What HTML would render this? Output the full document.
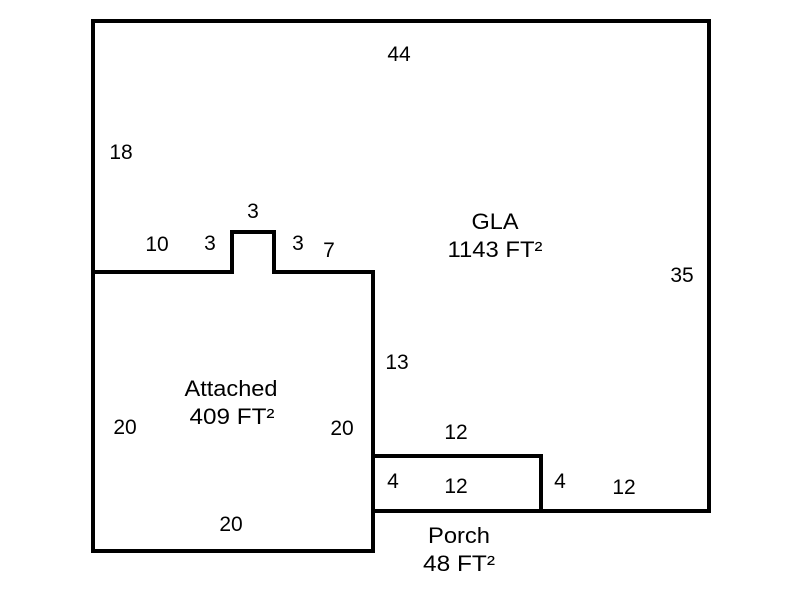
<!DOCTYPE html>
<html><head><style>html,body{margin:0;padding:0;background:#fff}</style></head>
<body>
<svg width="800" height="600" xmlns="http://www.w3.org/2000/svg" style="display:block">
<rect width="800" height="600" fill="#fff"/>
<g fill="none" stroke="#000" stroke-width="4" stroke-linecap="square">
<path d="M93,21 H709 V511 H373"/>
<path d="M93,21 V551 H373 V272 H274 V232 H232 V272 H93"/>
<path d="M373,456 H541 V511"/>
</g>
<g font-family="Liberation Sans, Arial, sans-serif" font-size="21" fill="#000" text-anchor="middle">
<text x="399" y="61">44</text>
<text x="121" y="159">18</text>
<text x="253" y="218">3</text>
<text x="157" y="251">10</text>
<text x="210" y="250">3</text>
<text x="298" y="250">3</text>
<text x="329" y="257">7</text>
<text x="682" y="282">35</text>
<text x="397" y="369">13</text>
<text x="125" y="434">20</text>
<text x="342" y="435">20</text>
<text x="456" y="439">12</text>
<text x="393" y="488">4</text>
<text x="456" y="493">12</text>
<text x="560" y="488">4</text>
<text x="624" y="494">12</text>
<text x="231" y="531">20</text>
</g>
<g font-family="Liberation Sans, Arial, sans-serif" font-size="22" fill="#000" text-anchor="middle">
<text x="495" y="229" textLength="47" lengthAdjust="spacingAndGlyphs">GLA</text>
<text x="495" y="257" textLength="95" lengthAdjust="spacingAndGlyphs">1143 FT²</text>
<text x="231" y="396" textLength="93" lengthAdjust="spacingAndGlyphs">Attached</text>
<text x="232" y="424" textLength="85" lengthAdjust="spacingAndGlyphs">409 FT²</text>
<text x="459" y="543" textLength="62" lengthAdjust="spacingAndGlyphs">Porch</text>
<text x="459" y="571" textLength="72" lengthAdjust="spacingAndGlyphs">48 FT²</text>
</g>
</svg>
</body></html>
